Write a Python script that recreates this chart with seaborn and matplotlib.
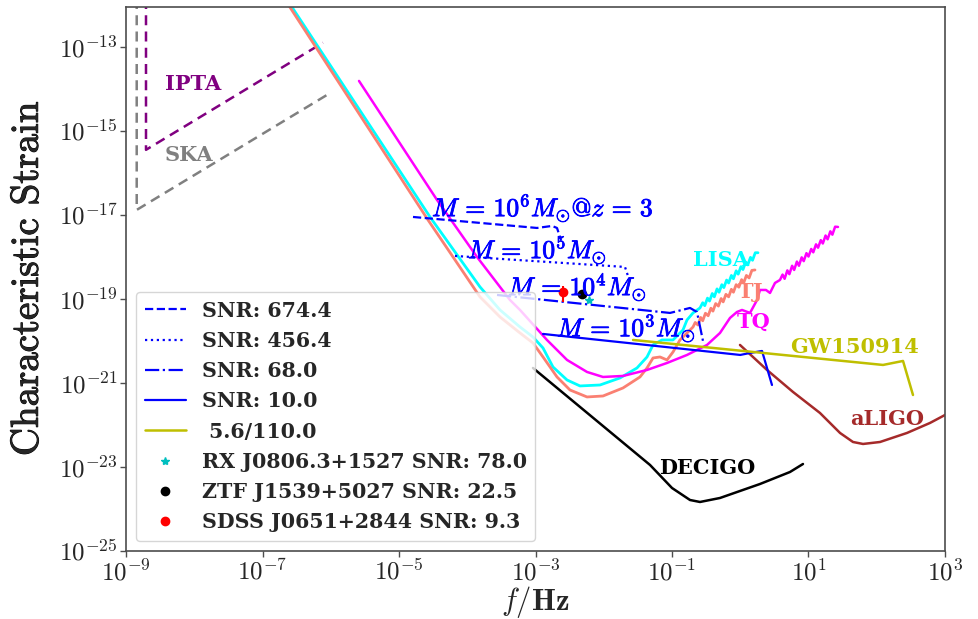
import numpy as np
import pandas as pd
import matplotlib
matplotlib.use("Agg")
import matplotlib.pyplot as plt
import matplotlib.patheffects as pe
import seaborn as sns

sns.set_style("white")
plt.rcParams["mathtext.fontset"] = "cm"
plt.rcParams["axes.unicode_minus"] = False

# ---- sensitivity curves (log10 f [Hz], log10 h_c) ----
lisa_lf = [-6.65, -4.546, -3.813, -3.520, -3.227, -3.037, -2.890, -2.744, -2.538, -2.348,
           -2.055, -1.762, -1.513, -1.366, -1.278, -1.147, -0.985, -0.839, -0.780, -0.692, -0.590,
           -0.55, -0.52, -0.48, -0.45, -0.41, -0.38, -0.34, -0.31, -0.27, -0.24, -0.20, -0.17,
           -0.13, -0.10, -0.06, -0.03, 0.01, 0.04, 0.08, 0.11, 0.15, 0.18, 0.22, 0.26]
lisa_lh = [-11.85, -17.048, -18.714, -19.262, -19.667, -19.905, -20.167, -20.619, -20.929, -21.071,
           -21.048, -20.881, -20.643, -20.381, -20.095, -19.976, -19.976, -19.738, -19.500, -19.333, -19.214,
           -19.09, -19.16, -18.98, -19.05, -18.87, -18.95, -18.76, -18.84, -18.66, -18.73, -18.55, -18.62,
           -18.44, -18.52, -18.33, -18.41, -18.23, -18.30, -18.12, -18.19, -18.01, -18.08, -17.90, -17.90]

tj_lf = [-6.68, -4.575, -3.813, -3.520, -3.227, -3.037, -2.890, -2.685, -2.495, -2.245,
         -2.011, -1.718, -1.469, -1.366, -1.278, -1.176, -1.073, -0.985, -0.883, -0.780, -0.692,
         -0.66, -0.62, -0.58, -0.55, -0.51, -0.47, -0.43, -0.40, -0.36, -0.32, -0.28, -0.25,
         -0.21, -0.17, -0.13, -0.10, -0.06, -0.02, 0.02, 0.05, 0.09, 0.13, 0.17, 0.216]
tj_lh = [-11.85, -17.119, -18.952, -19.429, -19.810, -20.048, -20.381, -20.857, -21.167, -21.333,
         -21.310, -21.119, -20.857, -20.643, -20.405, -20.381, -20.452, -20.262, -19.976, -19.810, -19.667,
         -19.56, -19.62, -19.44, -19.52, -19.34, -19.40, -19.22, -19.29, -19.11, -19.17, -18.99, -19.07,
         -18.89, -18.95, -18.77, -18.84, -18.66, -18.72, -18.54, -18.62, -18.44, -18.50, -18.32, -18.31]

tq_lf = [-5.586, -4.443, -3.857, -3.374, -3.227, -2.832, -2.538, -2.245, -2.011, -1.718,
         -1.366, -1.073, -0.780, -0.487, -0.297, -0.150, -0.048, 0.026, 0.143, 0.246, 0.289,
         0.377, 0.436, 0.509, 0.582,
         0.62, 0.65, 0.69, 0.72, 0.76, 0.79, 0.83, 0.86, 0.90, 0.93, 0.97, 1.00,
         1.04, 1.07, 1.11, 1.14, 1.18, 1.21, 1.25, 1.28, 1.32, 1.35, 1.39, 1.432]
tq_lh = [-13.810, -16.643, -18.000, -19.024, -19.262, -19.976, -20.452, -20.738, -20.857, -20.833,
         -20.690, -20.524, -20.333, -20.095, -19.810, -19.452, -19.310, -19.262, -19.333, -19.024, -18.786,
         -18.786, -18.857, -18.619, -18.548,
         -18.42, -18.52, -18.32, -18.41, -18.21, -18.31, -18.11, -18.21, -18.01, -18.10, -17.91, -17.99,
         -17.81, -17.89, -17.70, -17.78, -17.60, -17.68, -17.49, -17.58, -17.39, -17.47, -17.28, -17.286]

decigo_lf = [-3.037, -1.322, -1.000, -0.736, -0.590, -0.297, 0.289, 0.729, 0.919]
decigo_lh = [-20.643, -22.952, -23.500, -23.786, -23.833, -23.738, -23.405, -23.119, -22.929]

aligo_lf = [-0.004, 0.392, 0.773, 1.168, 1.462, 1.652, 1.799, 2.048, 2.443, 2.780, 3.0, 3.1]
aligo_lh = [-20.095, -20.690, -21.214, -21.714, -22.190, -22.405, -22.452, -22.405, -22.190, -21.952, -21.762, -21.70]

ipta_lf = [-8.707, -8.707, -6.114]
ipta_lh = [-11.5, -15.45, -12.90]
ska_lf = [-8.843, -8.843, -6.011]
ska_lh = [-11.5, -16.88, -14.10]

# ---- source tracks ----
gw150914_lf = [-1.571, 2.092, 2.385, 2.531]
gw150914_lh = [-19.976, -20.571, -20.476, -21.286]

m6_lf = [-4.795, -2.978, -2.758, -2.685, -2.626]
m6_lh = [-17.048, -17.310, -17.262, -17.310, -17.600]
m5_lf = [-4.180, -1.689, -1.645]
m5_lh = [-17.976, -18.238, -18.452]
m4_lf = [-3.564, -1.029, -0.736, -0.634, -0.546]
m4_lh = [-18.905, -19.333, -19.214, -19.310, -20.000]
m3_lf = [-2.890, 0.000, 0.143, 0.319, 0.465]
m3_lh = [-19.833, -20.333, -20.286, -20.238, -21.048]

snr_labels = ["SNR: 674.4", "SNR: 456.4", "SNR: 68.0", "SNR: 10.0"]
gw_label = " 5.6/110.0"

# ---- verification binaries ----
bin_names = ["RX J0806.3+1527 SNR: 78.0", "ZTF J1539+5027 SNR: 22.5", "SDSS J0651+2844 SNR: 9.3"]
bin_f = [6.08e-3, 4.80e-3, 2.53e-3]
bin_lh = [-19.02, -18.88, -18.833]
bin_lh_lo = [-19.02, -18.976, -19.07]
bin_lh_hi = [-19.02, -18.786, -18.69]


def frame(lf, lh):
    return pd.DataFrame({"f": np.power(10.0, lf), "h": np.power(10.0, lh)})


fig = plt.figure(figsize=(9.79, 6.19), dpi=100)
ax = fig.add_axes([126 / 979, 1 - 551 / 619, 819 / 979, 544 / 619])

def line(lf, lh, **kw):
    sns.lineplot(data=frame(lf, lh), x="f", y="h", sort=False, estimator=None, ax=ax, **kw)

line(ipta_lf, ipta_lh, color="purple", lw=1.8, linestyle=(0, (4, 2.5)))
line(ska_lf, ska_lh, color="gray", lw=1.8, linestyle=(0, (4, 2.5)))
line(lisa_lf, lisa_lh, color="cyan", lw=2.0)
line(tj_lf, tj_lh, color="salmon", lw=2.0)
line(tq_lf, tq_lh, color="magenta", lw=1.8)
line(decigo_lf, decigo_lh, color="black", lw=1.8)
line(aligo_lf, aligo_lh, color="brown", lw=1.8)

line(m6_lf, m6_lh, color="blue", lw=1.6, linestyle="--", label=snr_labels[0])
line(m5_lf, m5_lh, color="blue", lw=1.6, linestyle=":", label=snr_labels[1])
line(m4_lf, m4_lh, color="blue", lw=1.6, linestyle="-.", label=snr_labels[2])
line(m3_lf, m3_lh, color="blue", lw=1.6, linestyle="-", label=snr_labels[3])
line(gw150914_lf, gw150914_lh, color="y", lw=1.8, label=gw_label)

bin_h = np.power(10.0, bin_lh)
yerr = [bin_h - np.power(10.0, bin_lh_lo), np.power(10.0, bin_lh_hi) - bin_h]
ax.errorbar(bin_f[1:], bin_h[1:], yerr=[yerr[0][1:], yerr[1][1:]], fmt="none",
            ecolor=["black", "red"], elinewidth=1.5)
ax.plot([bin_f[0]], [bin_h[0]], ls="", marker="*", color="c", ms=6, label=bin_names[0])
ax.plot([bin_f[1]], [bin_h[1]], ls="", marker="o", color="black", ms=6, label=bin_names[1])
ax.plot([bin_f[2]], [bin_h[2]], ls="", marker="o", color="red", ms=6, label=bin_names[2])

ax.set_xscale("log")
ax.set_yscale("log")
ax.set_xlim(1e-9, 1e3)
ax.set_ylim(1e-25, 10 ** -12.05)

xt = [-9, -7, -5, -3, -1, 1, 3]
yt = [-25, -23, -21, -19, -17, -15, -13]
ax.set_xticks([10.0 ** e for e in xt])
ax.set_xticklabels([r"$\mathbf{10^{%d}}$" % e for e in xt], fontsize=18)
ax.set_yticks([10.0 ** e for e in yt])
ax.set_yticklabels([r"$\mathbf{10^{%d}}$" % e for e in yt], fontsize=18)
ax.minorticks_off()
ax.tick_params(axis="both", which="major", direction="out", length=4, width=1, color="0.3",
               bottom=True, left=True, pad=2)
for s in ax.spines.values():
    s.set_color("0.3")
    s.set_linewidth(1.2)

ax.set_xlabel(r"$f/\mathbf{Hz}$", fontsize=22)
ax.xaxis.set_label_coords(0.5, -0.061)
ax.set_ylabel("Characteristic Strain", fontsize=28, fontfamily="cmr10",
              path_effects=[pe.withStroke(linewidth=0.7, foreground="black")])
ax.yaxis.set_label_coords(-0.098, 0.5)

lab = dict(fontfamily="DejaVu Serif", fontweight="bold", fontsize=15, va="center", ha="left")
ax.text(10 ** -8.43, 10 ** -13.88, "IPTA", color="purple", **lab)
ax.text(10 ** -8.43, 10 ** -15.57, "SKA", color="gray", **lab)
ax.text(10 ** -0.692, 10 ** -18.07, "LISA", color="cyan", **lab)
ax.text(10 ** -0.033, 10 ** -18.83, "TJ", color="salmon", **lab)
ax.text(10 ** -0.048, 10 ** -19.55, "TQ", color="magenta", **lab)
ax.text(10 ** 0.729, 10 ** -20.14, "GW150914", color="y", **lab)
ax.text(10 ** 1.608, 10 ** -21.86, "aLIGO", color="brown", **lab)
ax.text(10 ** -1.191, 10 ** -23.02, "DECIGO", color="black", **lab)

heavy = [pe.withStroke(linewidth=0.6, foreground="blue")]
mlab = dict(fontsize=18.5, color="blue", va="center", ha="left", path_effects=heavy)
ax.text(10 ** -4.516, 10 ** -16.83, r"$M\,=\,10^6M_{\odot}@z\,=\,3$", **mlab)
ax.text(10 ** -3.989, 10 ** -17.83, r"$M\,=\,10^5M_{\odot}$", **mlab)
ax.text(10 ** -3.403, 10 ** -18.71, r"$M\,=\,10^4M_{\odot}$", **mlab)
ax.text(10 ** -2.685, 10 ** -19.69, r"$M\,=\,10^3M_{\odot}$", **mlab)

ax.legend(loc="lower left", prop=dict(family="DejaVu Serif", weight="bold", size=14.8),
          handlelength=2.0, labelspacing=0.5)

fig.savefig("out.png", dpi=100)
